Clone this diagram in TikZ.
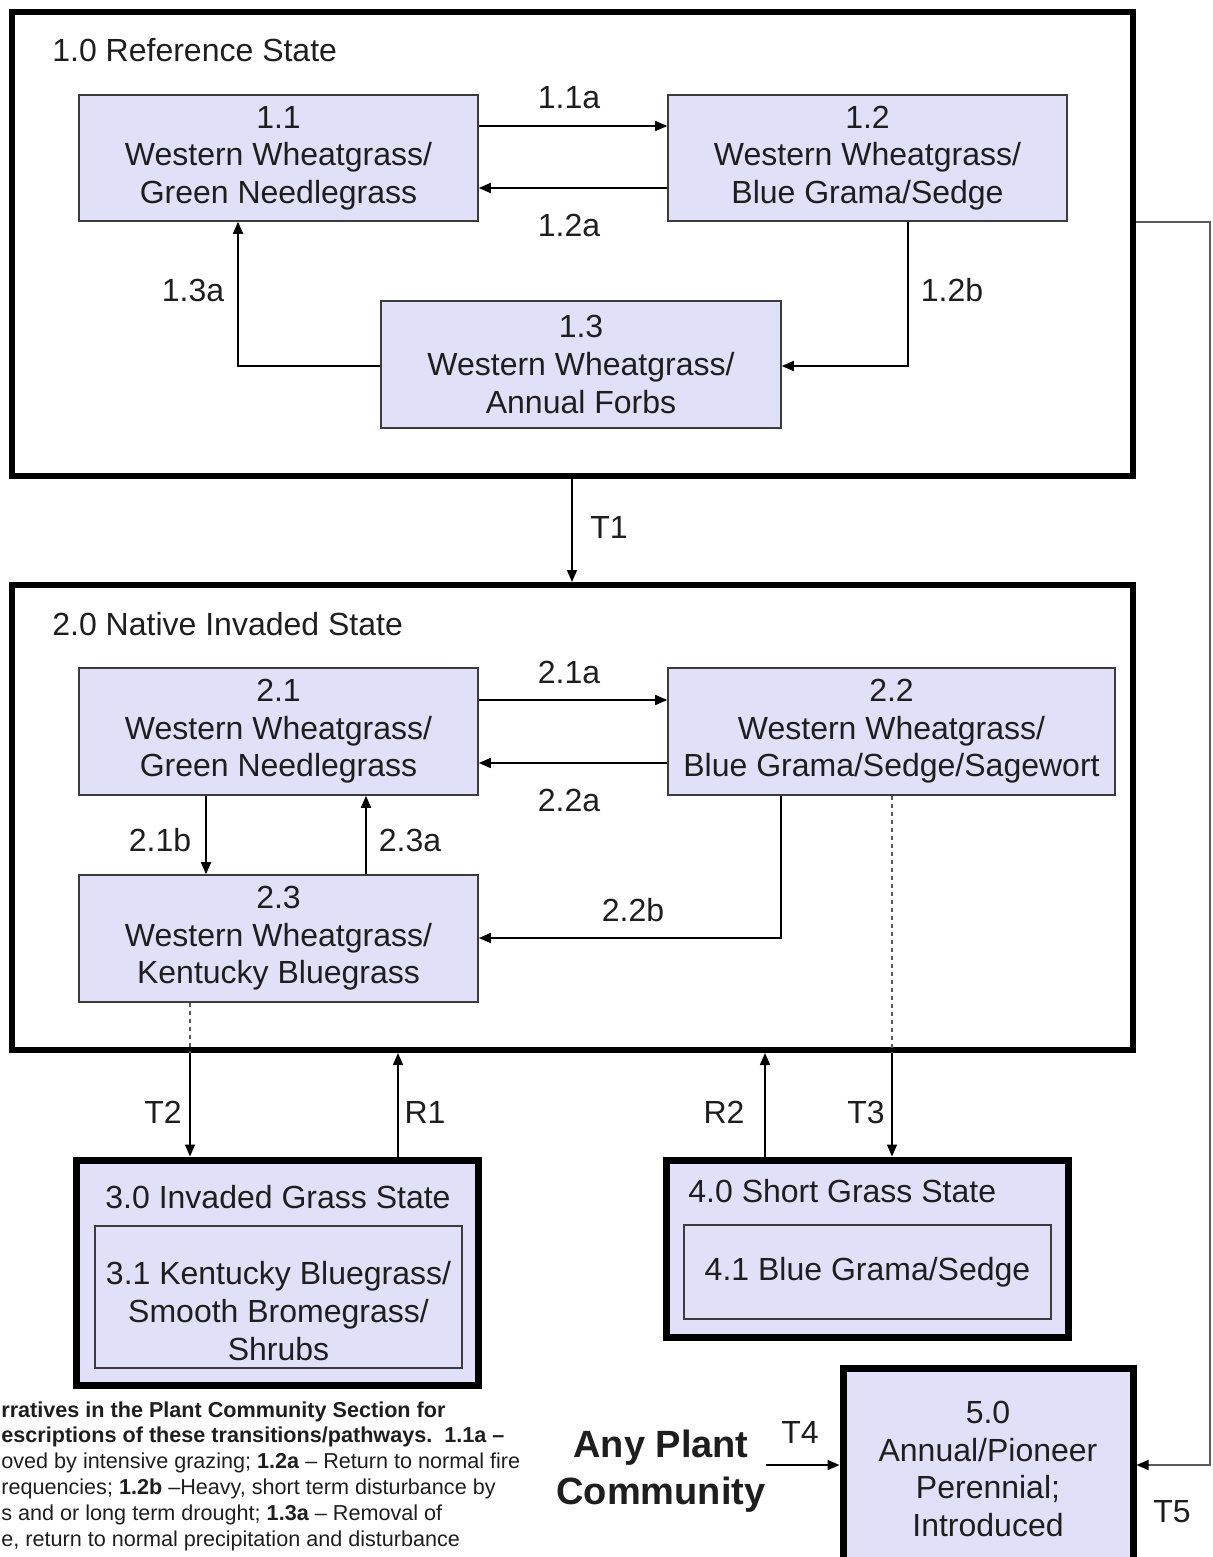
\documentclass[tikz,border=0pt]{standalone}
\usepackage{fontspec}
\setmainfont{Liberation Sans}
\usetikzlibrary{arrows.meta,positioning}
\definecolor{boxfill}{RGB}{224,224,248}
\definecolor{boxedge}{RGB}{60,60,60}
\definecolor{inktext}{RGB}{30,30,30}
\definecolor{sideline}{RGB}{90,90,90}

\begin{document}
\begin{tikzpicture}[x=0.5pt, y=-0.5pt,
	statebox/.style={draw=black, line width=3pt, inner sep=0pt},
	commbox/.style={draw=boxedge, fill=boxfill, line width=0.8pt, inner sep=0pt, align=center, text=inktext, font=\fontsize{16}{18.8}\selectfont},
	lbl/.style={inner sep=0pt, text=inktext, font=\fontsize{16}{18.8}\selectfont},
	arr/.style={-{Triangle[length=6pt,width=5pt,black]}, line width=0.8pt},
	dashlink/.style={line width=0.6pt, sideline, dash pattern=on 2pt off 2pt}]
	\useasboundingbox (0,0) rectangle (1213,1557);
	\clip (0,0) rectangle (1213,1557);

	\node[statebox, minimum width=560.5pt, minimum height=232pt] (s1) at (572.5,244) {};
	\node[lbl, anchor=west] (t1) at (52,50) {1.0 Reference State};
	\node[commbox, minimum width=199.5pt, minimum height=63pt] (n11) at (278.5,158) {1.1\\Western Wheatgrass/\\Green Needlegrass};
	\node[commbox, minimum width=199.5pt, minimum height=63pt] (n12) at (867.5,158) {1.2\\Western Wheatgrass/\\Blue Grama/Sedge};
	\node[commbox, minimum width=200pt, minimum height=63.5pt] (n13) at (581,364.5) {1.3\\Western Wheatgrass/\\Annual Forbs};
	\draw[arr] (n11.east |- 0,126) -- (n12.west |- 0,126);
	\draw[arr] (n12.west |- 0,188) -- (n11.east |- 0,188);
	\draw[arr] (n12.south -| 908,0) |- (n13.east |- 0,366);
	\draw[arr] (n13.west |- 0,366) -| (n11.south -| 238,0);
	\node[lbl] (l11a) at (569,98) {1.1a};
	\node[lbl] (l12a) at (569,225) {1.2a};
	\node[lbl] (l12b) at (952,290) {1.2b};
	\node[lbl] (l13a) at (193,290) {1.3a};

	\node[statebox, minimum width=560.5pt, minimum height=232.5pt] (s2) at (572.5,817.5) {};
	\node[lbl, anchor=west] (t2) at (52,624) {2.0 Native Invaded State};
	\node[commbox, minimum width=199.5pt, minimum height=63.5pt] (n21) at (278.5,731.5) {2.1\\Western Wheatgrass/\\Green Needlegrass};
	\node[commbox, minimum width=223.5pt, minimum height=63.5pt] (n22) at (891.5,731.5) {2.2\\Western Wheatgrass/\\Blue Grama/Sedge/Sagewort};
	\node[commbox, minimum width=199.5pt, minimum height=63.5pt] (n23) at (278.5,938.5) {2.3\\Western Wheatgrass/\\Kentucky Bluegrass};
	\draw[arr] (n21.east |- 0,700) -- (n22.west |- 0,700);
	\draw[arr] (n22.west |- 0,763) -- (n21.east |- 0,763);
	\draw[arr] (n21.south -| 206,0) -- (n23.north -| 206,0);
	\draw[arr] (n23.north -| 366,0) -- (n21.south -| 366,0);
	\draw[arr] (n22.south -| 781,0) |- (n23.east |- 0,938);
	\node[lbl] (l21a) at (569,672) {2.1a};
	\node[lbl] (l22a) at (569,800) {2.2a};
	\node[lbl] (l21b) at (160,840) {2.1b};
	\node[lbl] (l23a) at (410,840) {2.3a};
	\node[lbl] (l22b) at (633,910) {2.2b};

	\draw[arr] (s1.south -| 572,0) -- (s2.north -| 572,0);
	\node[lbl] (lt1) at (609,527) {T1};

	\node[statebox, line width=3.5pt, fill=boxfill, minimum width=201pt, minimum height=112.5pt] (s3) at (277,1272.5) {};
	\node[lbl] (t3) at (278,1197) {3.0 Invaded Grass State};
	\node[commbox, minimum width=183.5pt, minimum height=71pt] (n31) at (278.5,1297) {};
	\node[lbl, align=center] (x31) at (278.5,1311) {3.1 Kentucky Bluegrass/\\Smooth Bromegrass/\\Shrubs};

	\node[statebox, line width=3.5pt, fill=boxfill, minimum width=201pt, minimum height=88.5pt] (s4) at (867,1248.5) {};
	\node[lbl, anchor=west] (t4) at (688,1191) {4.0 Short Grass State};
	\node[commbox, minimum width=183.5pt, minimum height=47pt] (n41) at (867.5,1272) {4.1 Blue Grama/Sedge};

	\node[statebox, line width=3.5pt, fill=boxfill, minimum width=145pt, minimum height=101pt, align=center, text=inktext, font=\fontsize{16}{18.8}\selectfont] (s5) at (988,1469) {5.0\\Annual/Pioneer\\Perennial;\\Introduced};
	\node[inner sep=0pt, align=center, text=inktext, font=\fontsize{19}{23.5}\selectfont\bfseries] (any) at (661,1471) {Any Plant\\Community};

	\draw[dashlink] (n23.south -| 190,0) -- (s2.south -| 190,0);
	\draw[arr] (s2.south -| 190,0) -- (s3.north -| 190,0);
	\draw[arr] (s3.north -| 398,0) -- (s2.south -| 398,0);
	\draw[arr] (s4.north -| 765,0) -- (s2.south -| 765,0);
	\draw[dashlink] (n22.south -| 892,0) -- (s2.south -| 892,0);
	\draw[arr] (s2.south -| 892,0) -- (s4.north -| 892,0);
	\node[lbl] (lt2) at (163,1112) {T2};
	\node[lbl] (lr1) at (425,1112) {R1};
	\node[lbl] (lr2) at (724,1112) {R2};
	\node[lbl] (lt3) at (866,1112) {T3};

	\draw[arr] (any.east |- 0,1465) -- (s5.west |- 0,1465);
	\node[lbl] (lt4) at (800,1432) {T4};
	\draw[arr, sideline] (s1.east |- 0,222) -| (1210,1465) -- (s5.east |- 0,1465);
	\node[lbl] (lt5) at (1172,1512) {T5};

	\node[anchor=north west, inner sep=0pt, align=left, text=inktext, font=\fontsize{10.8}{12.9}\selectfont] (note) at (1,1401) {\textbf{rratives in the Plant Community Section for}\\\textbf{escriptions of these transitions/pathways.\ \ 1.1a –}\\oved by intensive grazing; \textbf{1.2a} – Return to normal fire\\requencies; \textbf{1.2b} –Heavy, short term disturbance by\\s and or long term drought; \textbf{1.3a} – Removal of\\e, return to normal precipitation and disturbance};
\end{tikzpicture}
\end{document}
